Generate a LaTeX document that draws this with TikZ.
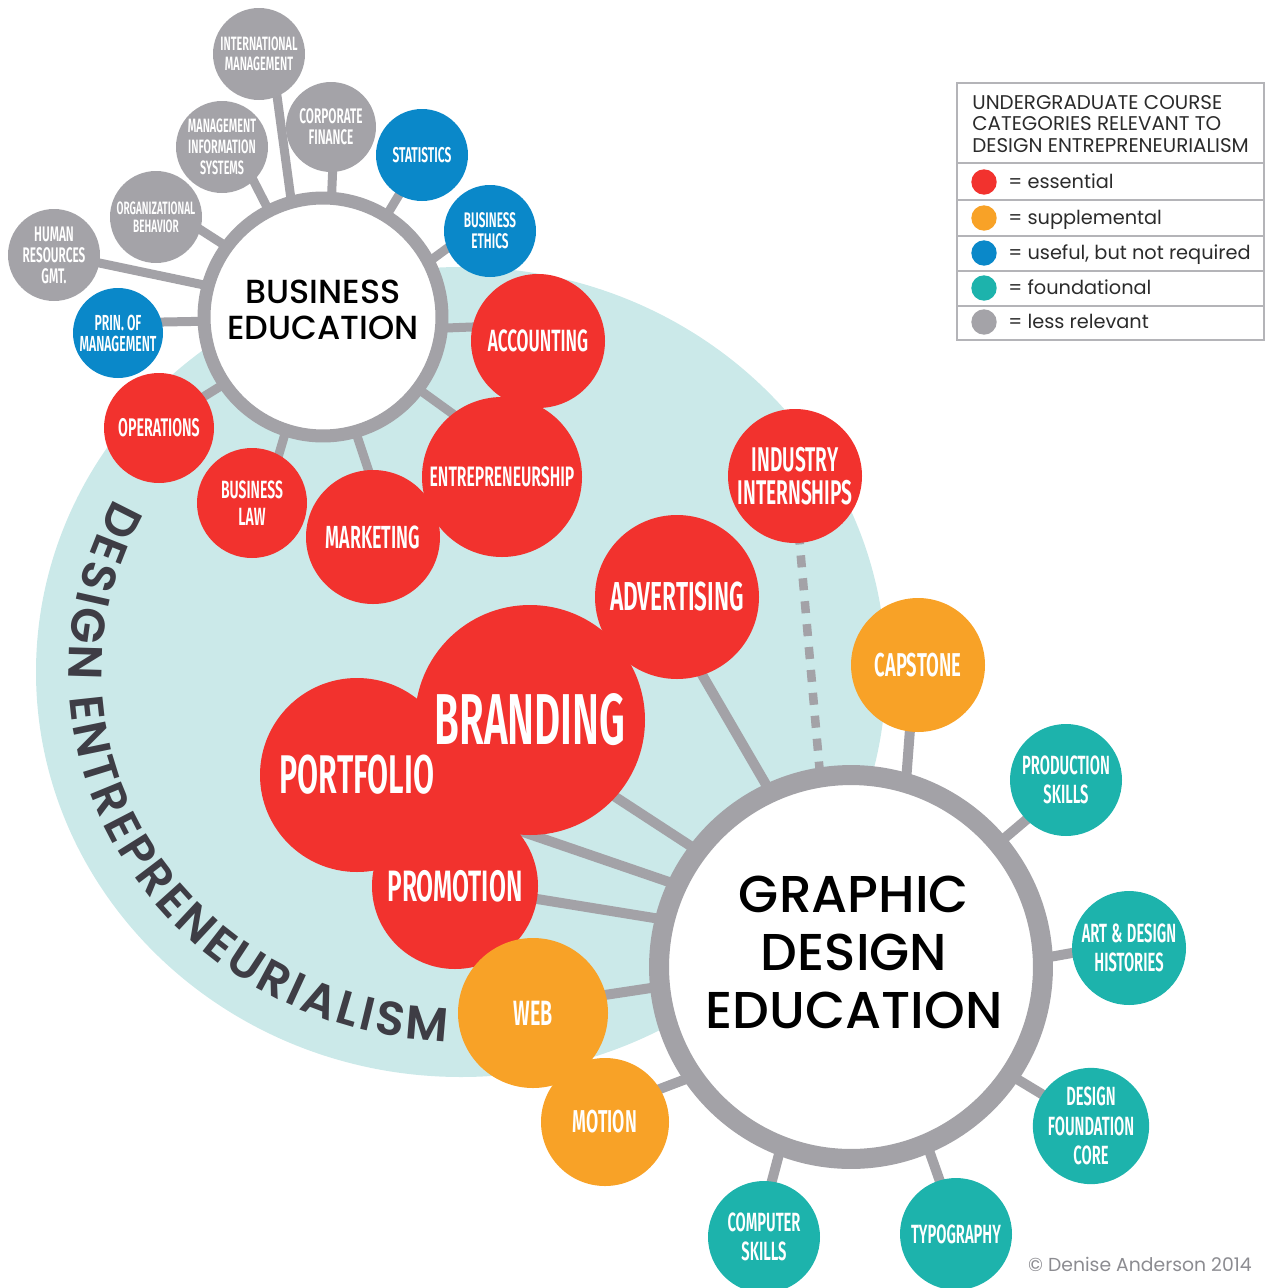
\documentclass[tikz,border=0pt]{standalone}
\usepackage{fontspec}
\usetikzlibrary{positioning,decorations.text}

\IfFontExistsTF{Poppins Medium}
  {\newfontfamily\headfont{Poppins Medium}}
  {\newfontfamily\headfont[FakeBold=1.2]{Poppins}}
\IfFontExistsTF{Poppins SemiBold}
  {\newfontfamily\arcfont{Poppins SemiBold}}
  {\newfontfamily\arcfont[FakeBold=2]{Poppins}}
\newfontfamily\keyfont{Poppins}
\IfFontExistsTF{Fira Sans SemiBold}
  {\newfontfamily\condfont[FakeStretch=0.56]{Fira Sans SemiBold}}
  {\newfontfamily\condfont[FakeStretch=0.56]{Fira Sans Bold}}

\newcommand\csz[2]{\condfont\fontsize{#1}{#2}\selectfont}
\newcommand\entfont{\arcfont\fontsize{27}{27}\selectfont}

\definecolor{cred}{HTML}{F2322E}
\definecolor{corange}{HTML}{F8A227}
\definecolor{cblue}{HTML}{0A88C9}
\definecolor{cteal}{HTML}{1DB3AC}
\definecolor{cgrey}{HTML}{A4A3A8}
\definecolor{cring}{HTML}{A3A2A7}
\definecolor{cbg}{HTML}{CBE9E9}
\definecolor{cdark}{HTML}{3E3D45}
\definecolor{ckey}{HTML}{B4B4B8}
\definecolor{cleg}{HTML}{2B2B2B}
\definecolor{ccopy}{HTML}{8C8C91}

\pgfdeclarelayer{back}
\pgfdeclarelayer{spokes}
\pgfsetlayers{back,spokes,main}

\tikzset{
  bub/.style={circle, inner sep=0pt, minimum size=2*#1*0.02cm, text=white, align=center},
  redbub/.style={bub=#1, fill=cred},
  orangebub/.style={bub=#1, fill=corange},
  bluebub/.style={bub=#1, fill=cblue},
  tealbub/.style={bub=#1, fill=cteal},
  greybub/.style={bub=#1, fill=cgrey},
  bubtext/.style={inner sep=0pt, text=white, align=center},
  hub/.style={circle, fill=white, draw=cring, inner sep=0pt},
  headtext/.style={align=center, text=black, inner sep=0pt},
  spoke/.style={draw=cring, line width=0.18cm, shorten <=-0.12cm, shorten >=-0.12cm},
  keytext/.style={inner sep=0pt, text height=0.95em, text depth=0.22em,
    font=\keyfont\fontsize{11}{12}\selectfont, text=cleg},
  keyrule/.style={draw=ckey, line width=0.035cm}
}

\begin{document}
\begin{tikzpicture}[x=0.02cm, y=-0.02cm]
\useasboundingbox (0,0) rectangle (1267,1288);

% hubs
\node[hub, minimum size=4.76cm, line width=0.26cm,
  label={[headtext, font=\headfont\fontsize{19}{20.5}\selectfont, yshift=0.14cm]center:BUSINESS\\EDUCATION}] (be) at (323,317) {};
\node[hub, minimum size=7.68cm, line width=0.4cm,
  label={[headtext, font=\headfont\fontsize{29.5}{33}\selectfont, xshift=0.06cm, yshift=0.3cm]center:GRAPHIC\\DESIGN\\EDUCATION}] (gde) at (851,967) {};

% business satellites
\node[greybub=46, font=\csz{11}{11.4}] (intl) at (259,54) {INTERNATIONAL\\MANAGEMENT};
\node[greybub=45, font=\csz{12}{11.8}] (corp) at (331,127) {CORPORATE\\FINANCE};
\node[greybub=46, font=\csz{11}{12}] (mis) at (222,147) {MANAGEMENT\\INFORMATION\\SYSTEMS};
\node[greybub=46, font=\csz{10.2}{10.4}] (org) at (156,217) {ORGANIZATIONAL\\BEHAVIOR};
\node[greybub=46, font=\csz{12}{12}] (hr) at (54,255) {HUMAN\\RESOURCES\\GMT.};
\node[bluebub=46, font=\csz{12.2}{13}] (stat) at (422,155) {STATISTICS};
\node[bluebub=46, font=\csz{12}{11.8}] (eth) at (490,231) {BUSINESS\\ETHICS};
\node[bluebub=45, font=\csz{12.4}{12}] (prin) at (118,333) {PRIN. OF\\MANAGEMENT};
\node[redbub=67, font=\csz{17.5}{19}] (acc) at (538,341) {ACCOUNTING};
\node[redbub=55, font=\csz{14.5}{15}] (ops) at (159,428) {OPERATIONS};
\node[redbub=55, font=\csz{14.2}{15.4}] (law) at (252,503) {BUSINESS\\LAW};
\node[redbub=67, font=\csz{18.2}{19}] (mkt) at (373,537) {MARKETING};
\node[redbub=80, font=\csz{16}{18}] (ent) at (502,477) {ENTREPRENEURSHIP};

% design satellites
\node[redbub=67, font=\csz{19.5}{19}] (intern) at (795,476) {INDUSTRY\\INTERNSHIPS};
\node[redbub=82, font=\csz{23}{24}] (adv) at (677,597) {ADVERTISING};
\node[redbub=97] (port) at (357,775) {};
\node[redbub=115, font=\csz{41}{40}] (brand) at (530,720) {BRANDING};
\node[redbub=83, font=\csz{25}{26}] (promo) at (455,886) {PROMOTION};
\node[bubtext, font=\csz{31}{30}] (portlabel) at (port) {PORTFOLIO};
\node[orangebub=67, font=\csz{18.8}{19}] (cap) at (918,665) {CAPSTONE};
\node[orangebub=75, font=\csz{20}{19}] (web) at (533,1013) {WEB};
\node[orangebub=64, font=\csz{18}{19}] (motion) at (605,1122) {MOTION};
\node[tealbub=56, font=\csz{15}{16.5}] (prod) at (1066,780) {PRODUCTION\\SKILLS};
\node[tealbub=57, font=\csz{15}{16.5}] (art) at (1129,948) {ART\,\&\,DESIGN\\HISTORIES};
\node[tealbub=57, font=\csz{15}{16.8}] (dfc) at (1091,1126) {DESIGN\\FOUNDATION\\CORE};
\node[tealbub=56, font=\csz{15}{16.5}] (typo) at (956,1234) {TYPOGRAPHY};
\node[tealbub=56, font=\csz{15}{16.5}] (comp) at (764,1237) {COMPUTER\\SKILLS};

\begin{pgfonlayer}{back}
\fill[cbg] (461,672) ellipse [x radius=425, y radius=405];
\path[decorate, decoration={text along path, text color=cdark, text align={fit to path},
  text={|\entfont|DESIGN ENTREPRENEURIALISM}}]
  (114.9,498.3) arc[start angle=208, end angle=92, x radius=392, y radius=370];
\end{pgfonlayer}

\begin{pgfonlayer}{spokes}
\draw[spoke] (be.105) -- (intl.-67);
\draw[spoke] (be.86) -- (corp.-88);
\draw[spoke] (be.117) -- (mis.-47);
\draw[spoke] (be.144) -- (org.-16);
\draw[spoke] (be.165) -- (hr.-10);
\draw[spoke] (be.182) -- (prin.14);
\draw[spoke] (be.58) -- (stat.-120);
\draw[spoke] (be.28) -- (eth.-158);
\draw[spoke] (be.-5) -- (acc.168);
\draw[spoke] (be.214) -- (ops.35);
\draw[spoke] (be.-108) -- (law.61);
\draw[spoke] (be.-74) -- (mkt.94);
\draw[spoke] (be.-37) -- (ent.128);

\draw[spoke, line width=0.2cm] (gde.115) -- (adv.-72);
\draw[spoke, line width=0.17cm, dash pattern=on 0.24cm off 0.22cm] (gde.99) -- (intern.-86);
\draw[spoke, line width=0.2cm] (gde.74) -- (cap.-97);
\draw[spoke, line width=0.2cm] (gde.40) -- (prod.-135);
\draw[spoke, line width=0.2cm] (gde.3) -- (art.-175);
\draw[spoke, line width=0.2cm] (gde.-34) -- (dfc.147);
\draw[spoke, line width=0.2cm] (gde.-67) -- (typo.107);
\draw[spoke, line width=0.2cm] (gde.-111) -- (comp.82);
\draw[spoke, line width=0.2cm] (gde.-146) -- (motion.31);
\draw[spoke, line width=0.2cm] (gde.186) -- (web.14);
\draw[spoke, line width=0.2cm] (gde.166) -- (promo.-9);
\draw[spoke, line width=0.2cm] (gde.143) -- (brand.-42);
\draw[spoke, line width=0.2cm] (port) -- (gde.155);
\end{pgfonlayer}

% key
\draw[keyrule] (957,83) rectangle (1264,340);
\foreach \y in {163,200,236,271,306}
  \draw[keyrule] (957,\y) -- (1264,\y);
\node[anchor=north west, align=left, inner sep=0pt, text=cleg,
  font=\keyfont\fontsize{11.3}{12.2}\selectfont] (keyhead) at (972,95)
  {UNDERGRADUATE COURSE\\CATEGORIES RELEVANT TO\\DESIGN ENTREPRENEURIALISM};
\foreach \c/\y/\t/\n in {cred/182/essential/kred, corange/218/supplemental/korange,
    cblue/253/{useful, but not required}/kblue, cteal/288/foundational/kteal,
    cgrey/322/less relevant/kgrey}{
  \node[bub=12.7, fill=\c] (\n) at (984,\y) {};
  \node[keytext, right=0.22cm of \n] {= \t};
}

\node[anchor=east, inner sep=0pt, text=ccopy, font=\keyfont\fontsize{10.7}{12}\selectfont]
  (copy) at (1252,1264) {\textcopyright{} Denise Anderson 2014};
\end{tikzpicture}
\end{document}
